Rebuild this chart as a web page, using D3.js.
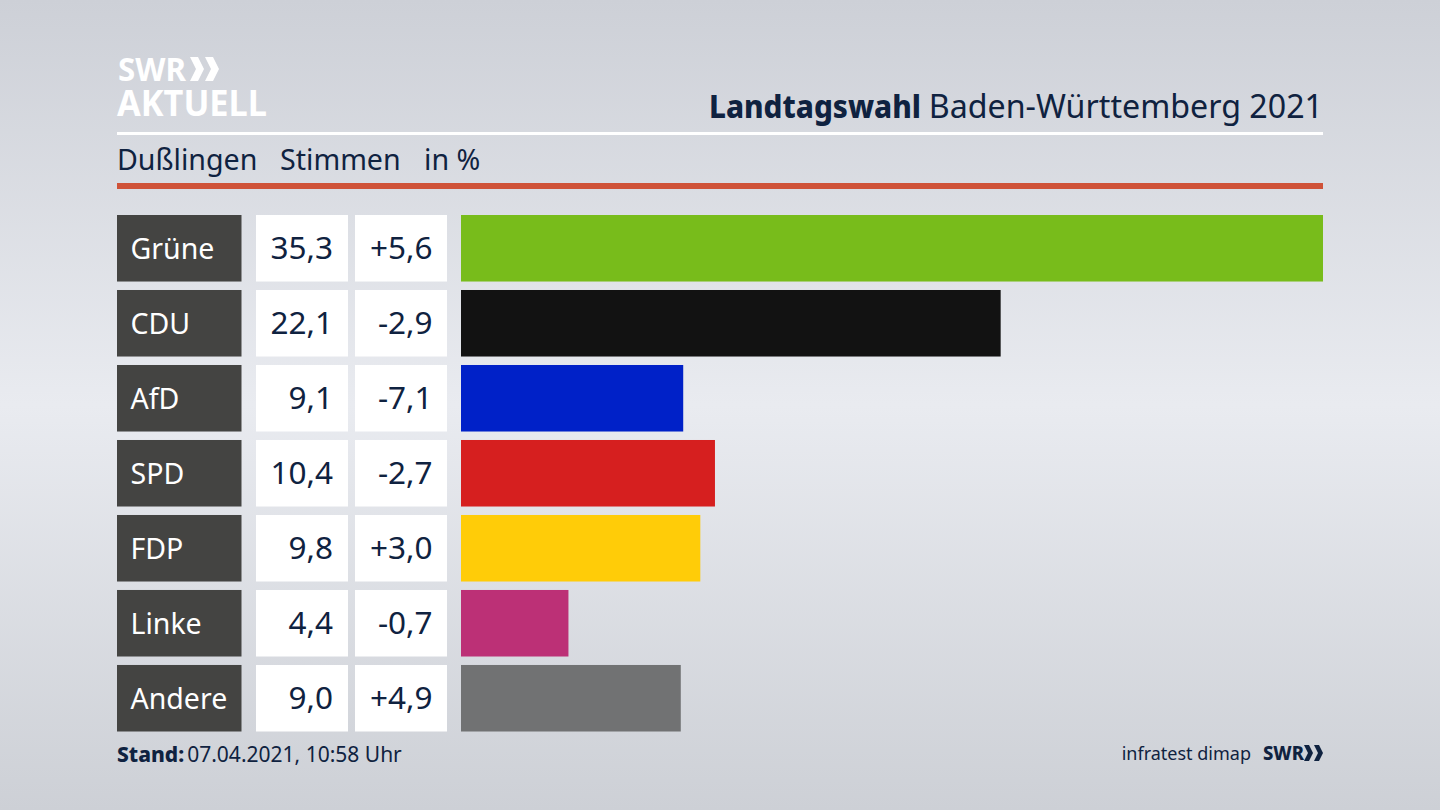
<!DOCTYPE html>
<html><head><meta charset="utf-8">
<script src="https://cdn.jsdelivr.net/npm/d3@7"></script>
<style>html,body{margin:0;padding:0;background:#dfe1e6;overflow:hidden}svg{display:block}text{font-family:"Noto Sans",sans-serif}</style>
</head><body><svg id="c" width="1440" height="810"></svg>
<script>
const parties=["Grüne","CDU","AfD","SPD","FDP","Linke","Andere"];
const shares=[35.3,22.1,9.1,10.4,9.8,4.4,9.0];
const changes=["+5,6","-2,9","-7,1","-2,7","+3,0","-0,7","+4,9"];
const colors=["#78bc1b","#121212","#0021c8","#d61f1f","#ffcc08","#bc3076","#717273"];
const titleBold="Landtagswahl", titleRest="Baden-Württemberg 2021";
const subtitle=["Dußlingen","Stimmen","in %"];
const standLabel="Stand:", standValue="07.04.2021, 10:58 Uhr", source="infratest dimap";
const navy="#0f2240";
const fmt=v=>v.toFixed(1).replace(".",",");
const svg=d3.select("#c");
const defs=svg.append("defs");
const g=defs.append("linearGradient").attr("id","bg").attr("x1",0).attr("x2",0).attr("y1",0).attr("y2",1);
[[0,"#cdd0d7"],[0.5,"#e9ebf0"],[1,"#cdd0d6"]].forEach(s=>g.append("stop").attr("offset",s[0]).attr("stop-color",s[1]));
svg.append("rect").attr("width",1440).attr("height",810).attr("fill","url(#bg)");

// logo
const chev=(sel,x,y,w,h,t,fill)=>{[0,1].forEach(i=>{const X=x+i*(w+1);
 sel.append("path").attr("d",`M${X},${y}L${X+t},${y}L${X+w},${y+h/2}L${X+t},${y+h}L${X},${y+h}L${X+w-t},${y+h/2}Z`).attr("fill",fill);});};
svg.append("text").attr("x",118).attr("y",81).attr("font-size",33).attr("font-weight",700).attr("fill","#fff").attr("textLength",68).attr("lengthAdjust","spacingAndGlyphs").text("SWR");
chev(svg,190,57,14,24,8,"#fff");
svg.append("text").attr("x",117).attr("y",116).attr("font-size",36).attr("font-weight",700).attr("fill","#fff").attr("textLength",150).attr("lengthAdjust","spacingAndGlyphs").text("AKTUELL");

// title
svg.append("text").attr("x",709).attr("y",118).attr("font-size",31.5).attr("font-weight",800).attr("fill",navy).attr("textLength",212).attr("lengthAdjust","spacingAndGlyphs").text(titleBold);
svg.append("text").attr("x",1323).attr("y",118).attr("text-anchor","end").attr("font-size",32.2).attr("fill",navy).text(titleRest);
svg.append("rect").attr("x",117).attr("y",132).attr("width",1206).attr("height",3).attr("fill","#fff");
[117,280,424].forEach((x,i)=>svg.append("text").attr("x",x).attr("y",170).attr("font-size",28.6).attr("fill",navy).text(subtitle[i]));
svg.append("rect").attr("x",117).attr("y",183).attr("width",1206).attr("height",6).attr("fill","#cf5238");

// chart
const y=d3.scaleBand().domain(parties).range([215,731.5]).paddingInner(0.113).paddingOuter(0);
const x=d3.scaleLinear().domain([0,35.3]).range([461,1323]);
const rows=svg.selectAll("g.row").data(parties).join("g").attr("class","row").attr("transform",d=>`translate(0,${y(d)})`);
const bh=y.bandwidth();
rows.append("rect").attr("x",117).attr("width",124.5).attr("height",bh).attr("fill","#444442");
rows.append("rect").attr("x",256).attr("width",92).attr("height",bh).attr("fill","#fff");
rows.append("rect").attr("x",355).attr("width",92).attr("height",bh).attr("fill","#fff");
rows.append("rect").attr("x",x(0)).attr("width",(d,i)=>x(shares[i])-x(0)).attr("height",bh).attr("fill",(d,i)=>colors[i]);
rows.append("text").attr("x",130.5).attr("y",bh/2+10.5).attr("font-size",28.5).attr("fill","#fff").text(d=>d);
rows.append("text").attr("x",333).attr("y",bh/2+11).attr("text-anchor","end").attr("font-size",31.5).attr("fill",navy).text((d,i)=>fmt(shares[i]));
rows.append("text").attr("x",432.5).attr("y",bh/2+11).attr("text-anchor","end").attr("font-size",31.5).attr("fill",navy).text((d,i)=>changes[i]);

// footer
const f=svg.append("text").attr("x",117).attr("y",762).attr("font-size",21).attr("fill",navy);
f.append("tspan").attr("font-weight",800).text(standLabel);
f.append("tspan").attr("dx",3).text(standValue);
svg.append("text").attr("x",1251).attr("y",760).attr("text-anchor","end").attr("font-size",18).attr("fill",navy).text(source);
svg.append("text").attr("x",1263).attr("y",760).attr("font-size",20).attr("font-weight",800).attr("fill",navy).attr("textLength",41).attr("lengthAdjust","spacingAndGlyphs").text("SWR");
chev(svg,1304,745,9,16,5,navy);
</script></body></html>
